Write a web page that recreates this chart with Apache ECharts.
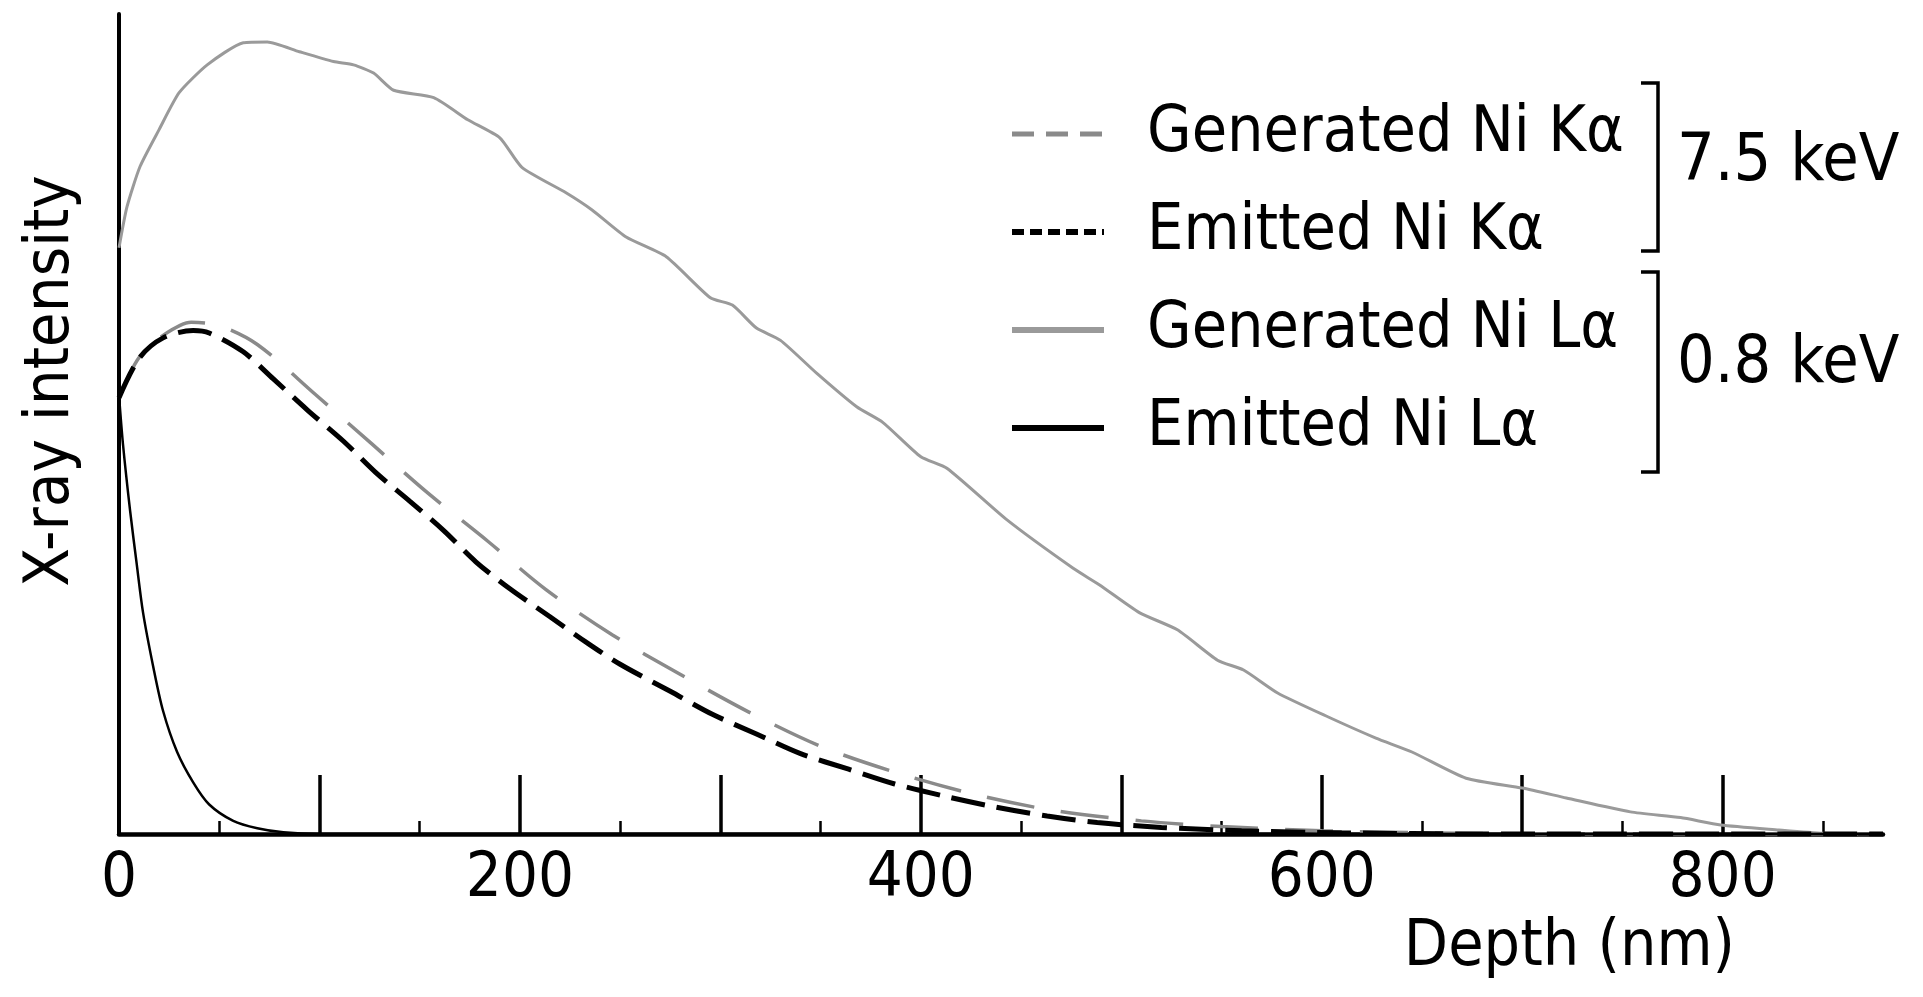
<!DOCTYPE html>
<html>
<head>
<meta charset="utf-8">
<title>X-ray intensity vs depth</title>
<script src="https://cdn.jsdelivr.net/npm/echarts@6/dist/echarts.min.js"></script>
<style>
html, body { margin: 0; padding: 0; background: #fff; }
#chart { width: 1923px; height: 997px; }
</style>
</head>
<body>
<div id="chart"></div>
<script>
// values: depth in nm, intensity in arbitrary units (0-100)
const genLaDepth = [0, 4, 10.5, 20, 30, 44, 62, 74, 90, 107, 117, 127, 137, 157, 174, 190, 201, 223, 236, 253, 273, 295, 306, 318, 330, 348, 368, 381, 400, 413, 443, 476, 489, 509, 528, 548, 561, 578, 603, 627, 645, 672, 700, 722, 754, 779, 799, 828, 850, 873];
const genLaVal = [71.5, 76.5, 81.4, 85.9, 90.4, 93.8, 96.5, 96.6, 95.4, 94.2, 93.8, 92.8, 90.7, 89.8, 87.1, 84.9, 81.3, 78.2, 76.1, 72.8, 70.4, 65.4, 64.5, 61.7, 60.2, 56.2, 52.1, 50.2, 46.0, 44.6, 38.3, 32.4, 30.4, 27.0, 24.9, 21.2, 20.0, 17.2, 14.3, 11.7, 10.0, 6.8, 5.6, 4.4, 2.7, 2.0, 1.1, 0.5, 0.1, 0];

const genKaDepth = [0, 10, 22, 36, 50, 69, 98, 126, 154, 184, 213, 246, 279, 314, 351, 389, 429, 468, 510, 550, 600, 650, 720, 880];
const genKaVal = [53.2, 58.1, 60.8, 62.4, 62.0, 59.7, 53.6, 47.6, 41.6, 35.7, 29.8, 24.3, 19.6, 14.9, 10.6, 7.4, 4.7, 2.8, 1.6, 0.9, 0.4, 0.15, 0, 0];

const emKaDepth = [0, 10, 22, 37, 45, 62, 77, 94, 112, 128, 145, 162, 178, 195, 215, 233, 250, 275, 296, 318, 340, 364, 387, 412, 437, 463, 488, 520, 560, 610, 680, 880];
const emKaVal = [53.2, 58.0, 60.5, 61.4, 61.1, 58.8, 55.5, 51.7, 47.9, 44.1, 40.6, 37.0, 33.2, 29.9, 26.5, 23.4, 20.7, 17.4, 14.6, 12.2, 9.8, 7.9, 6.1, 4.6, 3.3, 2.2, 1.4, 0.8, 0.4, 0.15, 0, 0];

const emLaDepth = [0, 2, 5.5, 8.8, 12, 17, 22, 29, 37, 45, 57, 69, 82, 100, 880];
const emLaVal = [53.5, 47.5, 39.5, 33, 27, 20.5, 15, 10, 6.3, 3.6, 1.6, 0.7, 0.2, 0, 0];

const xLabelValues = [0, 200, 400, 600, 800];
const xMajorTicks = [100, 200, 300, 400, 500, 600, 700, 800];
const xMinorTicks = [50, 150, 250, 350, 450, 550, 650, 750, 850];

const FONT = "'DejaVu Sans Condensed', 'Noto Sans', sans-serif";

function pairs(xs, ys) {
    return xs.map((x, i) => [x, ys[i]]);
}

const chart = echarts.init(document.getElementById('chart'));

const option = {
    backgroundColor: '#fff',
    animation: false,
    grid: {
        left: 119,
        right: 40,
        top: 14,
        bottom: 163,
        containLabel: false,
        outerBoundsMode: 'none'
    },
    legend: {
        orient: 'vertical',
        left: 1004,
        top: 91,
        itemWidth: 92,
        itemHeight: 20,
        itemGap: 22,
        selectedMode: false,
        // hide the round marker ECharts puts on line icons
        itemStyle: { opacity: 0 },
        textStyle: {
            fontSize: 64,
            fontFamily: FONT,
            color: '#000',
            lineHeight: 76,
            padding: [0, 0, 0, 38]
        },
        data: [
            { name: 'Generated Ni Kα', lineStyle: { type: [22, 12], width: 5 } },
            { name: 'Emitted Ni Kα', lineStyle: { type: [12, 6], width: 6 } },
            { name: 'Generated Ni Lα', lineStyle: { width: 6 } },
            { name: 'Emitted Ni Lα', lineStyle: { width: 6 } }
        ]
    },
    xAxis: [
        {
            type: 'value',
            min: 0,
            max: 880,
            interval: 100,
            z: 3,
            name: 'Depth (nm)',
            nameLocation: 'end',
            nameGap: -148,
            nameMoveOverlap: false,
            nameTextStyle: {
                fontSize: 64,
                fontFamily: FONT,
                color: '#000',
                align: 'right',
                verticalAlign: 'top',
                padding: [82, 0, 0, 0]
            },
            axisLine: { show: true, lineStyle: { color: '#000', width: 4.5 } },
            axisTick: {
                show: true,
                inside: true,
                length: 59,
                customValues: xMajorTicks,
                lineStyle: { color: '#000', width: 3.5 }
            },
            axisLabel: {
                show: true,
                customValues: xLabelValues,
                margin: 14,
                fontSize: 63,
                fontFamily: FONT,
                color: '#000'
            },
            splitLine: { show: false }
        },
        {
            // second axis only carries the short ticks
            type: 'value',
            position: 'bottom',
            min: 0,
            max: 880,
            interval: 100,
            z: 3,
            axisLine: { show: false },
            axisTick: {
                show: true,
                inside: true,
                length: 13,
                customValues: xMinorTicks,
                lineStyle: { color: '#000', width: 2.5 }
            },
            axisLabel: { show: false },
            splitLine: { show: false }
        }
    ],
    yAxis: {
        type: 'value',
        min: 0,
        max: 100,
        z: 3,
        name: 'X-ray intensity',
        nameLocation: 'middle',
        nameGap: 36,
        nameMoveOverlap: false,
        nameTextStyle: {
            fontSize: 63,
            fontFamily: FONT,
            color: '#000',
            padding: [0, 0, 0, 86]
        },
        axisLine: { show: true, lineStyle: { color: '#000', width: 4 } },
        axisTick: { show: false },
        axisLabel: { show: false },
        splitLine: { show: false }
    },
    graphic: [
        {
            type: 'polyline',
            shape: { points: [[1641, 83], [1658, 83], [1658, 251], [1641, 251]] },
            style: { stroke: '#000', lineWidth: 3.5, fill: null }
        },
        {
            type: 'polyline',
            shape: { points: [[1641, 272], [1658, 272], [1658, 472], [1641, 472]] },
            style: { stroke: '#000', lineWidth: 3.5, fill: null }
        },
        {
            type: 'text',
            x: 1677,
            y: 163,
            style: { text: '7.5 keV', fontSize: 66, fontFamily: FONT, fill: '#000', verticalAlign: 'middle' }
        },
        {
            type: 'text',
            x: 1677,
            y: 365,
            style: { text: '0.8 keV', fontSize: 66, fontFamily: FONT, fill: '#000', verticalAlign: 'middle' }
        }
    ],
    series: [
        {
            name: 'Generated Ni Lα',
            type: 'line',
            symbol: 'none',
            smooth: 0.2,
            lineStyle: { color: '#9a9a9a', width: 3 },
            itemStyle: { color: '#9a9a9a' },
            data: pairs(genLaDepth, genLaVal)
        },
        {
            name: 'Generated Ni Kα',
            type: 'line',
            symbol: 'none',
            smooth: 0.3,
            lineStyle: { color: '#8a8a8a', width: 3.5, type: [48, 27] },
            itemStyle: { color: '#8a8a8a' },
            data: pairs(genKaDepth, genKaVal)
        },
        {
            name: 'Emitted Ni Kα',
            type: 'line',
            symbol: 'none',
            smooth: 0.3,
            lineStyle: { color: '#000', width: 5, type: [34, 12] },
            itemStyle: { color: '#000' },
            data: pairs(emKaDepth, emKaVal)
        },
        {
            name: 'Emitted Ni Lα',
            type: 'line',
            symbol: 'none',
            smooth: 0.3,
            lineStyle: { color: '#000', width: 2.5 },
            itemStyle: { color: '#000' },
            data: pairs(emLaDepth, emLaVal)
        }
    ]
};

chart.setOption(option);
</script>
</body>
</html>
